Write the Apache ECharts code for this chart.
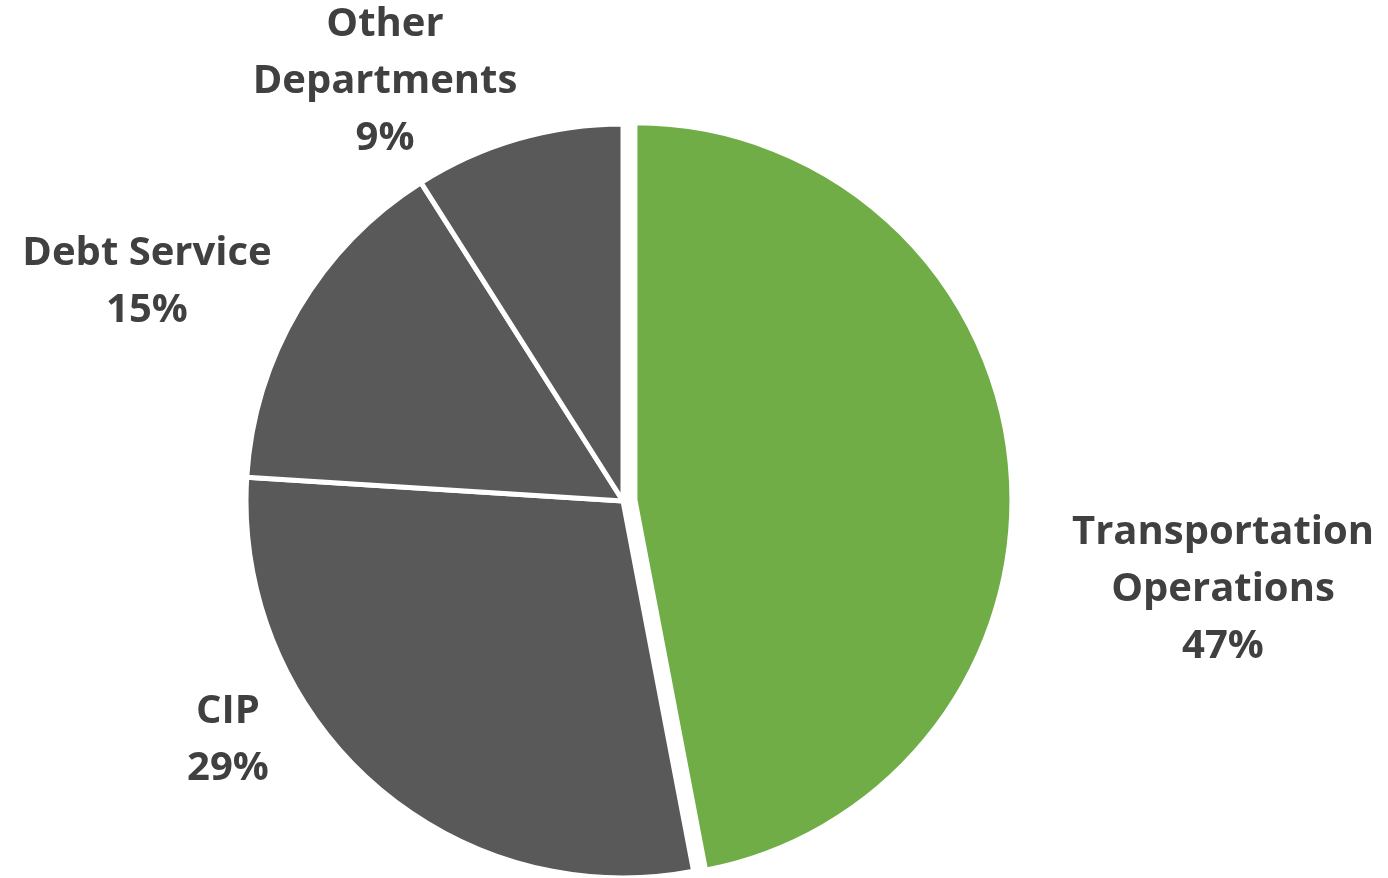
<!DOCTYPE html>
<html>
<head>
<meta charset="utf-8">
<script src="https://cdn.jsdelivr.net/npm/echarts@6/dist/echarts.min.js"></script>
<style>
html,body{margin:0;padding:0;background:#fff;}
#chart{width:1388px;height:878px;}
</style>
</head>
<body>
<div id="chart"></div>
<script>
const categories = ['Transportation Operations', 'CIP', 'Debt Service', 'Other Departments'];
const labelNames = ['Transportation\nOperations', 'CIP', 'Debt Service', 'Other\nDepartments'];
const values = [47, 29, 15, 9];
const colors = ['#70AD47', '#595959', '#595959', '#595959'];
const explodedIndex = 0;

// layout config (px)
const pieCenter = [623, 501];
const pieRadius = 377;
const explodeDist = 12;
const labelAnchors = [[1223, 590], [228, 740], [147, 282], [385, 82]];

const total = values.reduce(function (a, b) { return a + b; }, 0);
let before = 0;
for (let i = 0; i < explodedIndex; i++) before += values[i];
const midFrac = (before + values[explodedIndex] / 2) / total;
const midAng = midFrac * 2 * Math.PI; // clockwise from 12 o'clock
const explodedCenter = [pieCenter[0] + explodeDist * Math.sin(midAng), pieCenter[1] - explodeDist * Math.cos(midAng)];

const labelStyle = {
  show: true,
  position: 'outside',
  fontFamily: '"Open Sans", "Noto Sans", sans-serif',
  fontWeight: 'bold',
  fontSize: 40,
  lineHeight: 57,
  color: '#404040',
  formatter: function (p) { return labelNames[p.dataIndex] + '\n' + p.value + '%'; }
};

const chart = echarts.init(document.getElementById('chart'), null, {renderer: 'canvas'});
chart.setOption({
  animation: false,
  backgroundColor: '#ffffff',
  series: [{
    type: 'pie',
    center: pieCenter,
    radius: pieRadius,
    startAngle: 90,
    clockwise: true,
    selectedMode: false,
    avoidLabelOverlap: false,
    itemStyle: {borderColor: '#ffffff', borderWidth: 5},
    emphasis: {disabled: true},
    label: labelStyle,
    labelLine: {show: false},
    labelLayout: function (p) {
      const a = labelAnchors[p.dataIndex];
      return {x: a[0], y: a[1], align: 'center', verticalAlign: 'middle'};
    },
    data: categories.map(function (c, i) {
      return {
        name: c, value: values[i],
        itemStyle: i === explodedIndex ? {color: 'rgba(0,0,0,0)', borderWidth: 0} : {color: colors[i]}
      };
    })
  }, {
    type: 'pie',
    center: explodedCenter,
    radius: pieRadius,
    startAngle: 90 - before / total * 360,
    clockwise: true,
    selectedMode: false,
    silent: true,
    emphasis: {disabled: true},
    label: {show: false},
    labelLine: {show: false},
    data: [
      {name: categories[explodedIndex], value: values[explodedIndex], itemStyle: {color: colors[explodedIndex], borderColor: '#ffffff', borderWidth: 5}},
      {name: '_rest', value: total - values[explodedIndex], itemStyle: {color: 'rgba(0,0,0,0)', borderWidth: 0}}
    ]
  }]
});
</script>
</body>
</html>
